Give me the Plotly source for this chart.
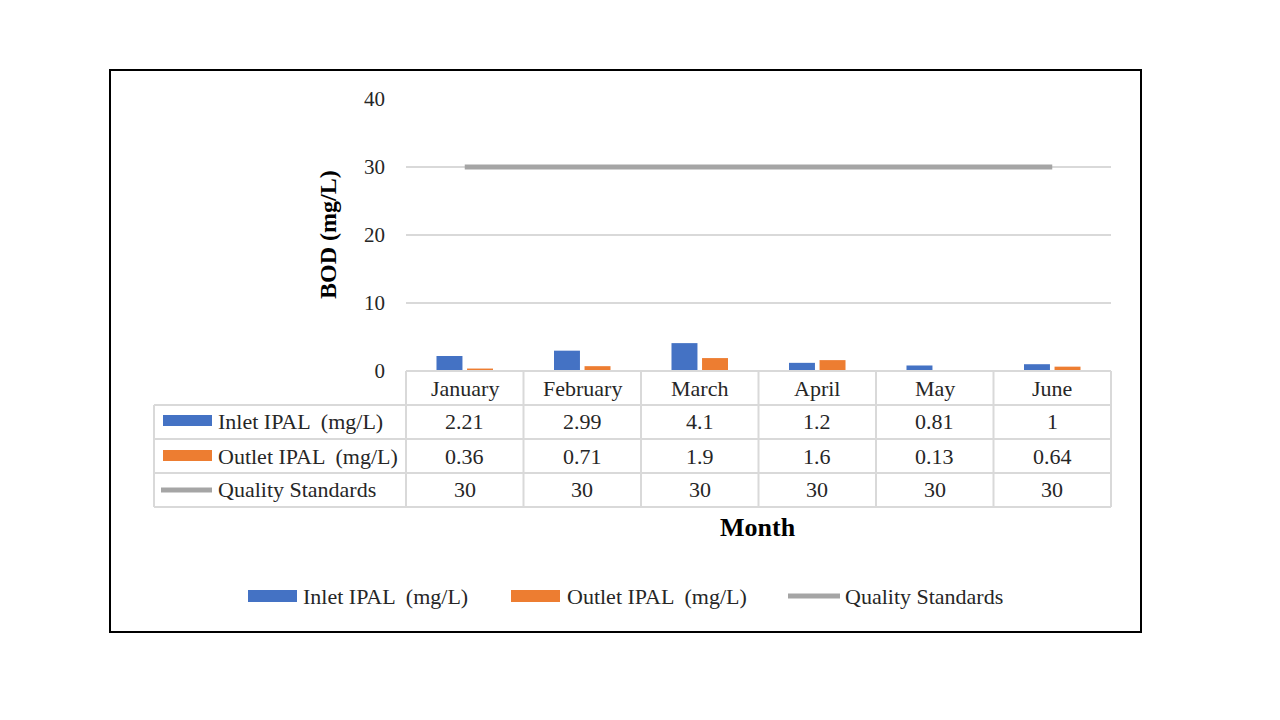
import plotly.graph_objects as go

months = ["January", "February", "March", "April", "May", "June"]
inlet = [2.21, 2.99, 4.1, 1.2, 0.81, 1]
outlet = [0.36, 0.71, 1.9, 1.6, 0.13, 0.64]
standard = [30, 30, 30, 30, 30, 30]
series_names = ["Inlet IPAL  (mg/L)", "Outlet IPAL  (mg/L)", "Quality Standards"]
y_ticks = [0, 10, 20, 30, 40]

BLUE = "#4472C4"
ORANGE = "#ED7D31"
GREY = "#A5A5A5"
GRID = "#D9D9D9"
TXT = "#262626"
FONT = "Liberation Serif"

W, H = 1280, 720
OFF = 8  # page body margin
def px(x):
    return (x - OFF) / W
def py(y):
    return 1 - (y - OFF) / H

fig = go.Figure()
fig.add_trace(go.Bar(x=months, y=inlet, name=series_names[0], marker=dict(color=BLUE, line=dict(width=0))))
fig.add_trace(go.Bar(x=months, y=outlet, name=series_names[1], marker=dict(color=ORANGE, line=dict(width=0))))
fig.add_trace(go.Scatter(x=months, y=standard, name=series_names[2], mode="lines",
                         line=dict(color=GREY, width=5)))

shapes = []
annotations = []

def ann(x, y, text, size, xref="paper", xanchor="center", color=TXT, **kw):
    annotations.append(dict(x=x, y=y, xref=xref, yref="paper", text=text, showarrow=False,
                            xanchor=xanchor, yanchor="middle",
                            font=dict(family=FONT, size=size, color=color), **kw))

# outer border
shapes.append(dict(type="rect", xref="paper", yref="paper", x0=px(110), x1=px(1141),
                   y0=py(632), y1=py(70), line=dict(color="black", width=2)))

# data table grid
xl, xr = 406, 1111
colw = (xr - xl) / len(months)
rows_y = [371, 405, 439, 473, 507]
for i, yy in enumerate(rows_y):
    x0 = xl if i == 0 else 154
    shapes.append(dict(type="line", xref="paper", yref="paper", x0=px(x0), x1=px(xr),
                       y0=py(yy), y1=py(yy), line=dict(color=GRID, width=2)))
for k in range(len(months) + 1):
    xx = xl + k * colw
    shapes.append(dict(type="line", xref="paper", yref="paper", x0=px(xx), x1=px(xx),
                       y0=py(371), y1=py(507), line=dict(color=GRID, width=2)))
shapes.append(dict(type="line", xref="paper", yref="paper", x0=px(154), x1=px(154),
                   y0=py(405), y1=py(507), line=dict(color=GRID, width=2)))

# month labels and values
row_centers = [388, 422, 456, 490]
for m in months:
    ann(m, py(row_centers[0]), m, 22, xref="x")
for vals, rc in zip([inlet, outlet, standard], row_centers[1:]):
    for m, v in zip(months, vals):
        ann(m, py(rc), f"{v:g}", 22, xref="x")

# table legend keys
shapes.append(dict(type="rect", xref="paper", yref="paper", x0=px(163), x1=px(212),
                   y0=py(426), y1=py(415), fillcolor=BLUE, line=dict(width=0)))
shapes.append(dict(type="rect", xref="paper", yref="paper", x0=px(163), x1=px(212),
                   y0=py(461), y1=py(450), fillcolor=ORANGE, line=dict(width=0)))
shapes.append(dict(type="line", xref="paper", yref="paper", x0=px(161), x1=px(212),
                   y0=py(490), y1=py(490), line=dict(color=GREY, width=5)))
for name, rc in zip(series_names, row_centers[1:]):
    ann(px(216), py(rc), name, 22, xanchor="left")

# bottom legend
ly = 596
shapes.append(dict(type="rect", xref="paper", yref="paper", x0=px(248), x1=px(297),
                   y0=py(602), y1=py(590), fillcolor=BLUE, line=dict(width=0)))
shapes.append(dict(type="rect", xref="paper", yref="paper", x0=px(511), x1=px(560),
                   y0=py(602), y1=py(590), fillcolor=ORANGE, line=dict(width=0)))
shapes.append(dict(type="line", xref="paper", yref="paper", x0=px(788), x1=px(840),
                   y0=py(ly), y1=py(ly), line=dict(color=GREY, width=5)))
for name, x in zip(series_names, [301, 565, 843]):
    ann(px(x), py(ly), name, 22, xanchor="left")

# axis titles
ann(px(328), py(235), "<b>BOD (mg/L)</b>", 24, color="black", textangle=-90)
ann(px(758), py(527), "<b>Month</b>", 26, color="black")

fig.update_layout(
    width=W, height=H,
    margin=dict(l=0, r=0, t=0, b=0, pad=0, autoexpand=False),
    paper_bgcolor="white", plot_bgcolor="white",
    showlegend=False,
    barmode="group", bargap=0.48, bargroupgap=0.15,
    xaxis=dict(domain=[px(406), px(1111)], range=[-0.5, 5.5], showticklabels=False,
               showgrid=False, zeroline=False, showline=False, fixedrange=True,
               automargin=False),
    yaxis=dict(domain=[py(371), py(99)], range=[0, 40], tickvals=y_ticks,
               showgrid=True, gridcolor=GRID, gridwidth=2,
               zeroline=True, zerolinecolor=GRID, zerolinewidth=2,
               showline=False, ticks="", ticklabelstandoff=20, automargin=False,
               tickfont=dict(family=FONT, size=21, color=TXT)),
    shapes=shapes, annotations=annotations,
)

fig.write_html("out.html")
